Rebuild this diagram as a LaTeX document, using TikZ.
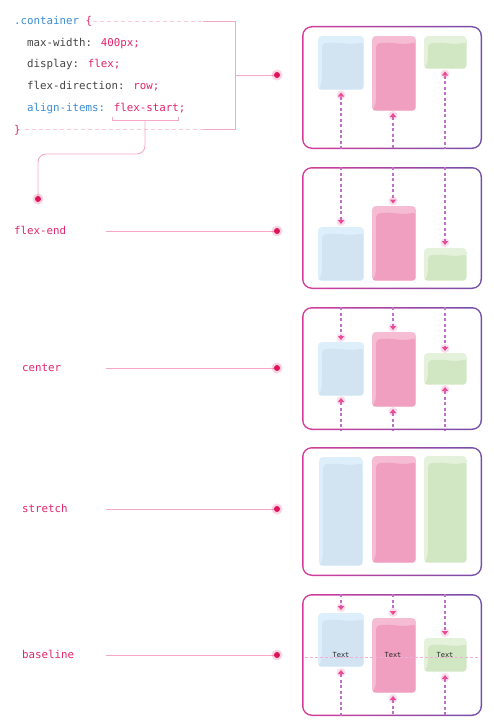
\documentclass[tikz,border=0pt]{standalone}
\usepackage{fontspec}
\newfontfamily\codefont{DejaVu Sans Mono}
\definecolor{cpink}{HTML}{E2246A}
\definecolor{cblue}{HTML}{3A8BD4}
\definecolor{cgray}{HTML}{444444}
\definecolor{dotpink}{HTML}{E0145C}
\definecolor{linepink}{HTML}{F5A9C8}
\definecolor{dashpink}{HTML}{F8CADB}
\definecolor{dashpurple}{HTML}{BD72C8}
\definecolor{arrpink}{HTML}{EE4A94}
\definecolor{borderL}{HTML}{D63C9C}
\definecolor{borderR}{HTML}{7450AA}
\definecolor{bluel}{HTML}{DCEFFB}
\definecolor{blued}{HTML}{D2E3F2}
\definecolor{pinkl}{HTML}{F6BCD4}
\definecolor{pinkd}{HTML}{F09FC0}
\definecolor{greenl}{HTML}{E4F1DB}
\definecolor{greend}{HTML}{D1E7C3}
\tikzset{
  code/.style={anchor=base west, inner sep=0pt, font=\codefont\fontsize{10.8}{12}\selectfont},
  lbl/.style={anchor=base west, inner sep=0pt, font=\codefont\fontsize{10.8}{12}\selectfont, text=cpink},
  conn/.style={draw=linepink, line width=0.9pt},
  dashconn/.style={draw=dashpink, line width=0.8pt, dash pattern=on 4pt off 3pt},
  flow/.style={draw=dashpurple, line width=1.1pt, dash pattern=on 3pt off 2.5pt},
  smalltext/.style={inner sep=0pt, font=\codefont\fontsize{7}{8}\selectfont, text=black!85},
}
\newcommand\drawitem[6]{%
  \begin{scope}
    \clip[rounded corners=4] (#3,#4) rectangle (#5,#6);
    \fill[#1] (#3,#4) rectangle (#5,#6);
    \fill[#2, rounded corners=2] (#3,#6) .. controls (#3+4,#6-6) and (#3+4,#6-10) .. (#3+4,#6-16)
      -- (#3+4,#4+13) .. controls (#3+4,#4+8.5) and (#3+6,#4+7) .. (#3+12,#4+7)
      .. controls ({(#3+#5)/2},#4+6) and ({(#3+#5)/2+6},#4+9.5) .. (#5-1,#4+6.5)
      -- (#5-1,#6-1) -- (#3,#6-1) -- cycle;
  \end{scope}}
\newcommand\arrup[3]{% x, tip y, end y
  \draw[flow] (#1,#2+4) -- (#1,#3);
  \fill[arrpink, opacity=0.18] (#1,#2+2.5) circle (4.5);
  \fill[arrpink] (#1,#2) -- (#1-3.2,#2+4) -- (#1+3.2,#2+4) -- cycle;}
\newcommand\arrdown[3]{% x, tip y, start y
  \draw[flow] (#1,#3) -- (#1,#2-4);
  \fill[arrpink, opacity=0.18] (#1,#2-2.5) circle (4.5);
  \fill[arrpink] (#1,#2) -- (#1-3.2,#2-4) -- (#1+3.2,#2-4) -- cycle;}
\newcommand\panel[2]{% top, bottom
  \shade[left color=borderL, right color=borderR, rounded corners=10] (302,#1) rectangle (482,#2);
  \fill[white, rounded corners=8.5] (303.5,#1+1.5) rectangle (480.5,#2-1.5);}
\newcommand\pdot[1]{%
  \fill[dotpink, opacity=0.18] (#1) circle (5.5);
  \fill[dotpink] (#1) circle (3);}
\begin{document}
\begin{tikzpicture}[x=1pt,y=-1pt]
\useasboundingbox (0,0) rectangle (493,725);
% ---- code ----
\node[code] (l1) at (14,25) {\textcolor{cblue}{.container} \textcolor{cpink}{\{}};
\node[code] (l2) at (27,47) {\textcolor{cgray}{max-width:} \textcolor{cpink}{400px;}};
\node[code] (l3) at (27,67.5) {\textcolor{cgray}{display:} \textcolor{cpink}{flex;}};
\node[code] (l4) at (27,89) {\textcolor{cgray}{flex-direction:} \textcolor{cpink}{row;}};
\node[code] (l5) at (27,111) {\textcolor{cblue}{align-items:} \textcolor{cpink}{flex-start;}};
\node[code] (l6) at (14,133) {\textcolor{cpink}{\}}};
% code connectors
\coordinate (ta) at (93,21);
\coordinate (tb) at (203,21);
\coordinate (tc) at (235,21);
\coordinate (ba) at (25,129);
\coordinate (bb) at (203,129);
\coordinate (bc) at (235,129);
\coordinate (mc) at (235,75);
\coordinate (d1) at (277,75);
\draw[dashconn] (ta) -- (tb);
\draw[dashconn] (ba) -- (bb);
\draw[conn] (tb) -- (tc) -- (bc) -- (bb);
\draw[conn] (mc) -- (d1);
\coordinate (br1) at (112,116.5);
\coordinate (br2) at (178,116.5);
\coordinate (brm) at (145,120);
\coordinate (d0) at (38,199);
\draw[conn] (br1) -- (112,120) -- (178,120) -- (br2);
\draw[conn, rounded corners=8] (brm) -- (145,154) -- (38,154) -- (d0);
\pdot{d0}
\pdot{d1}
% ---- labels ----
\node[lbl] (lend) at (14,234.5) {flex-end};
\node[lbl] (lcen) at (22,371.5) {center};
\node[lbl] (lstr) at (22,512.5) {stretch};
\node[lbl] (lbas) at (22,658.5) {baseline};
\coordinate (s2) at (106,231); \coordinate (d2) at (277,231);
\coordinate (s3) at (106,368); \coordinate (d3) at (277,368);
\coordinate (s4) at (106,509); \coordinate (d4) at (277,509);
\coordinate (s5) at (106,655); \coordinate (d5) at (277,655);
\draw[conn] (s2) -- (d2); \pdot{d2}
\draw[conn] (s3) -- (d3); \pdot{d3}
\draw[conn] (s4) -- (d4); \pdot{d4}
\draw[conn] (s5) -- (d5); \pdot{d5}
% ---- panel 1: flex-start ----
\panel{26}{149}
\drawitem{bluel}{blued}{318}{36}{364}{90}
\drawitem{pinkl}{pinkd}{372}{36}{416}{111}
\drawitem{greenl}{greend}{424}{36}{467}{69}
\arrup{341}{92.5}{149}
\arrup{393}{113}{149}
\arrup{445}{71.5}{149}
% ---- panel 2: flex-end ----
\panel{167}{289}
\drawitem{bluel}{blued}{318}{227}{364}{281}
\drawitem{pinkl}{pinkd}{372}{206}{416}{281}
\drawitem{greenl}{greend}{424}{248}{467}{281}
\arrdown{341}{224}{167}
\arrdown{393}{203.5}{167}
\arrdown{445}{245}{167}
% ---- panel 3: center ----
\panel{307}{430}
\drawitem{bluel}{blued}{318}{342}{364}{396}
\drawitem{pinkl}{pinkd}{372}{332}{416}{407}
\drawitem{greenl}{greend}{424}{353}{467}{385}
\arrdown{341}{340}{307}
\arrup{341}{398}{430}
\arrdown{393}{330}{307}
\arrup{393}{409}{430}
\arrdown{445}{351}{307}
\arrup{445}{387}{430}
% ---- panel 4: stretch ----
\panel{447}{576}
\drawitem{bluel}{blued}{319}{457}{363}{566}
\drawitem{pinkl}{pinkd}{372}{456}{416}{563}
\drawitem{greenl}{greend}{424}{456}{467}{563}
% ---- panel 5: baseline ----
\panel{594}{716}
\drawitem{bluel}{blued}{318}{613}{364}{667}
\drawitem{pinkl}{pinkd}{372}{618}{416}{693}
\drawitem{greenl}{greend}{424}{638}{467}{672}
\arrdown{341}{610}{594}
\arrup{341}{670}{716}
\arrdown{393}{615}{594}
\arrup{393}{696}{716}
\arrdown{445}{635}{594}
\arrup{445}{675}{716}
\draw[draw=borderL!40, line width=0.6pt, dash pattern=on 3pt off 2pt] (305,657) -- (481,657);
\node[smalltext] (t1) at (341,654.5) {Text};
\node[smalltext] (t2) at (393,654.5) {Text};
\node[smalltext] (t3) at (445,654.5) {Text};
\end{tikzpicture}
\end{document}
